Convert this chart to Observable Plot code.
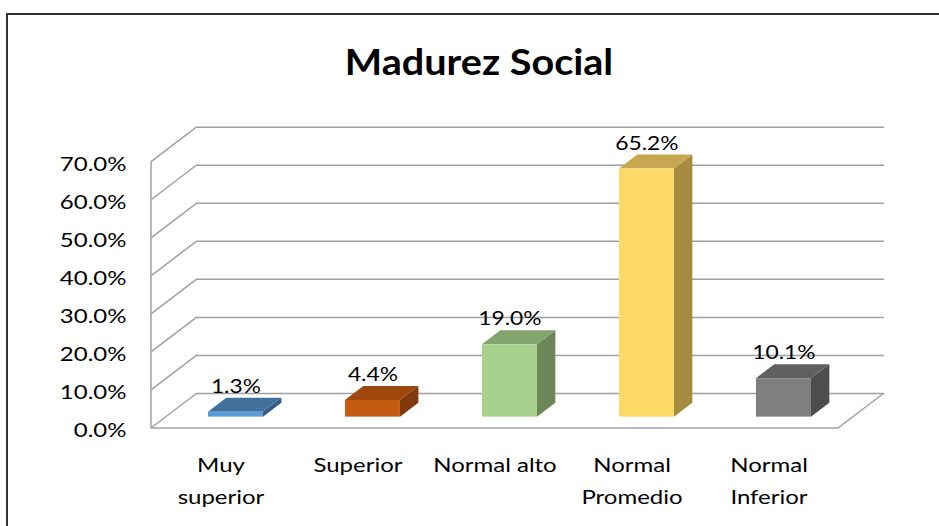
<!DOCTYPE html>
<html>
<head>
<meta charset="utf-8">
<script src="https://cdn.jsdelivr.net/npm/d3@7"></script>
<script src="https://cdn.jsdelivr.net/npm/@observablehq/plot@0.6"></script>
<style>
  html, body { margin: 0; padding: 0; background: #fff; }
  #wrap { position: relative; width: 939px; height: 526px; overflow: hidden; background: #fff; }
  #box { position: absolute; left: 6px; top: 13px; width: 1000px; height: 600px; border: 2px solid #333; box-sizing: border-box; }
  #title { position: absolute; left: 0; top: 38px; width: 958px; text-align: center; font: bold 37px Lato, "Open Sans", sans-serif; color: #000; transform: scaleX(1.07); transform-origin: 479px 0; }
  #chart { position: absolute; left: 0; top: 0; }
</style>
</head>
<body>
<div id="wrap">
  <div id="box"></div>
  <div id="chart"></div>
  <div id="title">Madurez Social</div>
</div>
<script>
// ---- data ----
const categories = ["Muy superior", "Superior", "Normal alto", "Normal Promedio", "Normal Inferior"];
const axisLabels = ["Muy\nsuperior", "Superior", "Normal alto", "Normal\nPromedio", "Normal\nInferior"];
const values = [0.013, 0.044, 0.190, 0.652, 0.101];
const valueLabels = ["1.3%", "4.4%", "19.0%", "65.2%", "10.1%"];
const yTicks = [0, 0.1, 0.2, 0.3, 0.4, 0.5, 0.6, 0.7];

// ---- styles ----
const frontColors = ["#5B9BD5", "#C55A11", "#A9D18E", "#FFD966", "#7F7F7F"];
const topColors   = ["#41719C", "#9E480E", "#83A46F", "#C5A84F", "#606060"];
const sideColors  = ["#335A80", "#80390B", "#6B8758", "#A68C40", "#4D4D4D"];
const GRID = "#A0A0A0";
const DX = 46, DY = -35;          // depth of the 3D walls (px)
const B0 = 0.325, B1 = 0.725;     // bar depth span (fraction of wall depth)
const FONT = 20;
const TEXT_STRETCH = 1.2;         // horizontal stretch of the labels

const data = categories.map((c, i) => ({cat: c, val: values[i], label: valueLabels[i], i}));

function wallRender(index, scales, values, dims) {
  const g = d3.create("svg:g").attr("fill", "none").attr("stroke", GRID).attr("stroke-width", 1.5);
  const xL = dims.marginLeft, xR = dims.width - dims.marginRight;
  const y0 = scales.y(0), yT = scales.y(d3.max(yTicks));
  for (const t of yTicks) {
    const y = scales.y(t);
    g.append("line").attr("x1", xL).attr("y1", y).attr("x2", xL + DX).attr("y2", y + DY);
  }
  g.append("line").attr("x1", xL).attr("y1", yT).attr("x2", xL).attr("y2", y0);
  g.append("line").attr("x1", xL).attr("y1", y0).attr("x2", xR).attr("y2", y0);
  g.append("line").attr("x1", xR).attr("y1", y0).attr("x2", xR + DX).attr("y2", y0 + DY);
  return g.node();
}

function barRender(index, scales, vals, dims) {
  const g = d3.create("svg:g");
  const w = scales.x.bandwidth();
  const ox = DX * B0, oy = DY * B0;
  const ddx = DX * (B1 - B0), ddy = DY * (B1 - B0);
  for (const i of index) {
    const d = data[i];
    const x0 = scales.x(d.cat) + ox;
    const yt = scales.y(d.val) + oy;
    const yb = scales.y(0) + oy;
    const pts = a => a.map(p => p.join(",")).join(" ");
    g.append("polygon").attr("fill", sideColors[d.i])
      .attr("points", pts([[x0 + w, yt], [x0 + w + ddx, yt + ddy], [x0 + w + ddx, yb + ddy], [x0 + w, yb]]));
    g.append("polygon").attr("fill", topColors[d.i])
      .attr("points", pts([[x0, yt], [x0 + w, yt], [x0 + w + ddx, yt + ddy], [x0 + ddx, yt + ddy]]));
    g.append("rect").attr("fill", frontColors[d.i])
      .attr("x", x0).attr("y", yt).attr("width", w).attr("height", Math.max(0, yb - yt));
  }
  return g.node();
}

const chart = Plot.plot({
  width: 939,
  height: 526,
  marginLeft: 151,
  marginRight: 101,
  marginTop: 161.7,
  marginBottom: 98,
  style: {fontFamily: "Lato, 'Open Sans', sans-serif", color: "#000", background: "transparent", overflow: "visible"},
  x: {domain: categories, paddingInner: 0.6, paddingOuter: 0.3},
  y: {domain: [0, 0.7]},
  marks: [
    Plot.ruleY(yTicks, {dx: DX, dy: DY, stroke: GRID, strokeWidth: 1.5, strokeOpacity: 1}),
    Plot.ruleY(yTicks, {render: wallRender}),
    Plot.barY(data, {x: "cat", y: "val", render: barRender}),
    Plot.text(data, {x: "cat", y: "val", text: "label", dx: DX * B0, dy: -37, fontSize: 19, fill: "#000"}),
    Plot.axisY(yTicks, {tickSize: 0, tickPadding: 25, tickFormat: d3.format(".1%"), fontSize: FONT, dy: 2.5, label: null}),
    Plot.axisX({tickSize: 0, tickPadding: 20, tickFormat: d => axisLabels[categories.indexOf(d)], fontSize: FONT, lineHeight: 1.62, label: null})
  ]
});

// stretch every label horizontally about its anchor point (vertical offsets untouched)
chart.querySelectorAll("text").forEach(t => {
  const tr = t.getAttribute("transform") || "";
  const x = t.getAttribute("x");
  let extra = "";
  if (x != null && !/em/.test(x) && isFinite(+x)) {
    extra = ` translate(${+x},0)`;
    t.removeAttribute("x");
  }
  t.setAttribute("transform", `${tr}${extra} scale(${TEXT_STRETCH},1)`);
});

document.getElementById("chart").appendChild(chart);
</script>
</body>
</html>
